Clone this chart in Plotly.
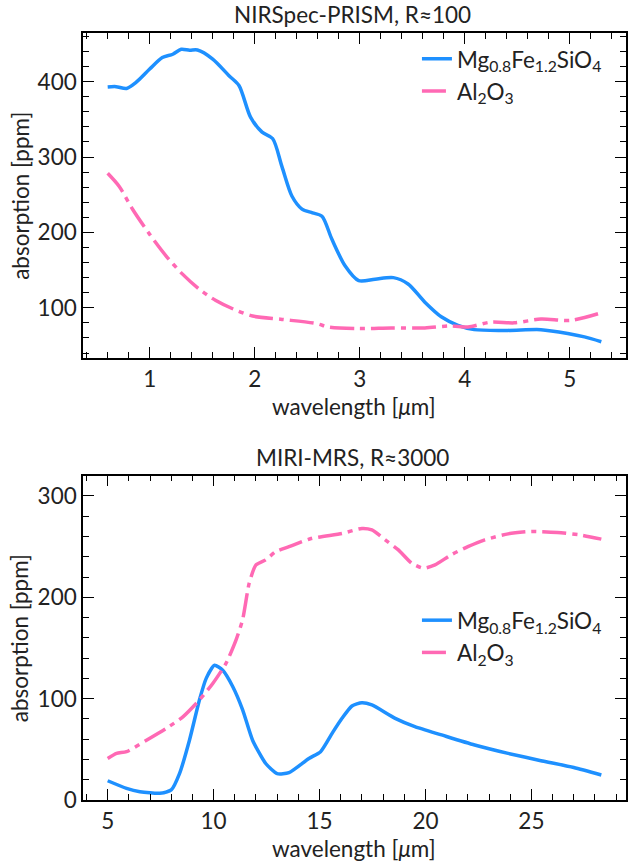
import plotly.graph_objects as go

# --- NIRSpec-PRISM (top) ---
nir_wl_mg = [0.6, 0.68, 0.78, 0.87, 1.0, 1.12, 1.22, 1.30, 1.38, 1.455, 1.60, 1.755, 1.85, 1.96, 2.07,
             2.17, 2.26, 2.355, 2.45, 2.55, 2.64, 2.735, 2.86, 2.99, 3.146, 3.32, 3.46, 3.62, 3.78,
             3.935, 4.09, 4.41, 4.725, 4.98, 5.14, 5.3]
nir_mg = [393, 393.4, 391, 399, 416.7, 432, 436.4, 443, 441.7, 442, 430, 408, 395, 353, 333,
          324.6, 287, 248, 231, 226, 221.5, 190.8, 155.7, 136, 138, 140, 131.6, 107.5, 87.7,
          76.7, 71, 70, 71, 66, 61.4, 55]

nir_wl_al = [0.6, 0.71, 0.84, 1.0, 1.155, 1.31, 1.47, 1.63, 1.79, 1.98, 2.26, 2.59, 2.70, 2.99,
             3.30, 3.62, 3.87, 4.03, 4.25, 4.47, 4.725, 5.01, 5.3]
nir_al = [278.5, 261, 230, 197.4, 169, 145, 125, 109.6, 98.7, 89, 84.6, 79, 74.6, 72.4,
          73.3, 73.3, 76, 74.6, 81, 80, 85, 83.3, 93.4]

# --- MIRI-MRS (bottom) ---
miri_wl_mg = [5.0, 5.89, 6.52, 7.46, 8.0, 8.39, 8.86, 9.33, 9.65, 10.04, 10.43, 10.9, 11.37, 11.84,
              12.46, 13.0, 13.56, 14.5, 15.05, 15.6, 16.06, 16.53, 17.0, 17.47, 18.57, 19.5,
              20.76, 22.32, 23.9, 25.45, 27.0, 28.3]
miri_mg = [19, 11.5, 8.2, 6.6, 9.9, 26, 59, 98.7, 120, 133, 128, 112, 89, 59,
           36, 26, 27, 41, 47.7, 66, 80.6, 92.8, 96, 93.8, 80.6, 72.4,
           64.2, 54.3, 46, 38.8, 32, 24.7]

miri_wl_al = [5.0, 5.42, 5.89, 6.83, 7.77, 8.55, 9.33, 9.96, 10.59, 11.06, 11.37, 11.68, 12.0,
              12.46, 12.93, 13.56, 14.6, 16.06, 17.0, 17.47, 18.1, 18.72, 19.35, 19.9, 20.45,
              21.2, 22.0, 22.8, 23.9, 24.98, 26.23, 27.3, 28.3]
miri_al = [41, 46, 47.7, 59, 70.8, 82, 98.7, 115, 135, 158, 178, 214, 232,
           237, 245, 250, 258, 263, 268, 266.5, 256.7, 246.8, 233.6, 228.7, 232,
           241.8, 250, 256.7, 262.6, 265, 264, 261.6, 257.4]

name_mg = "Mg<sub>0.8</sub>Fe<sub>1.2</sub>SiO<sub>4</sub>"
name_al = "Al<sub>2</sub>O<sub>3</sub>"
BLUE = "#1E90FF"
PINK = "#FF69B4"
DASH = "24px,6px,5px,6px"
FONT = "Lato"
FS = 22.5
TXT = "#222222"

fig = go.Figure()
fig.add_trace(go.Scatter(x=nir_wl_mg, y=nir_mg, mode="lines", name=name_mg,
                         line=dict(color=BLUE, width=3.5, shape="spline", smoothing=0.8),
                         xaxis="x", yaxis="y", legend="legend"))
fig.add_trace(go.Scatter(x=nir_wl_al, y=nir_al, mode="lines", name=name_al,
                         line=dict(color=PINK, width=3.5, dash=DASH, shape="spline", smoothing=0.8),
                         xaxis="x", yaxis="y", legend="legend"))
fig.add_trace(go.Scatter(x=miri_wl_mg, y=miri_mg, mode="lines", name=name_mg,
                         line=dict(color=BLUE, width=3.5, shape="spline", smoothing=0.6),
                         xaxis="x2", yaxis="y2", legend="legend2"))
fig.add_trace(go.Scatter(x=miri_wl_al, y=miri_al, mode="lines", name=name_al,
                         line=dict(color=PINK, width=3.5, dash=DASH, shape="spline", smoothing=0.6),
                         xaxis="x2", yaxis="y2", legend="legend2"))

def axis_style(dtick, minor_dtick, rng, anchor, domain=None):
    d = dict(range=rng, dtick=dtick, tick0=0, ticks="inside", ticklen=11, tickwidth=1.3,
             tickcolor="black", showline=True, linecolor="black", linewidth=1.5,
             mirror="allticks", showgrid=False, zeroline=False, anchor=anchor,
             tickfont=dict(family=FONT, size=FS, color=TXT),
             minor=dict(ticks="inside", ticklen=6, tickwidth=1.1, tickcolor="black",
                        dtick=minor_dtick, tick0=0, showgrid=False))
    if domain is not None:
        d["domain"] = domain
    return d

top_dom = [0.5763, 1.0]
bot_dom = [0.0, 0.4228]

fig.update_layout(
    width=629, height=862,
    margin=dict(l=83, r=1, t=33, b=62),
    paper_bgcolor="white", plot_bgcolor="white",
    font=dict(family=FONT, size=FS, color=TXT),
    xaxis=axis_style(1, 0.2, [0.365, 5.535], "y", [0, 1]),
    yaxis=axis_style(100, 20, [33.4, 464.6], "x", top_dom),
    xaxis2=axis_style(5, 1, [3.835, 29.465], "y2", [0, 1]),
    yaxis2=axis_style(100, 20, [0, 320], "x2", bot_dom),
    legend=dict(x=0.615, y=0.994, xanchor="left", yanchor="top", bgcolor="rgba(0,0,0,0)",
                font=dict(family=FONT, size=FS, color=TXT), tracegroupgap=0),
    legend2=dict(x=0.615, y=0.262, xanchor="left", yanchor="top", bgcolor="rgba(0,0,0,0)",
                 font=dict(family=FONT, size=FS, color=TXT), tracegroupgap=0),
    showlegend=True,
)

ann = [
    dict(text="NIRSpec-PRISM, R≈100", x=0.497, y=1.0235),
    dict(text="MIRI-MRS, R≈3000", x=0.497, y=0.447),
    dict(text="wavelength [<i>μ</i>m]", x=0.499, y=0.513),
    dict(text="wavelength [<i>μ</i>m]", x=0.499, y=-0.0632),
    dict(text="absorption [ppm]", x=-0.1156, y=0.788, textangle=-90),
    dict(text="absorption [ppm]", x=-0.1156, y=0.2113, textangle=-90),
]
for a in ann:
    fig.add_annotation(xref="paper", yref="paper", showarrow=False, xanchor="center",
                       yanchor="middle", font=dict(family=FONT, size=FS, color=TXT), **a)

fig.write_html("out.html")
